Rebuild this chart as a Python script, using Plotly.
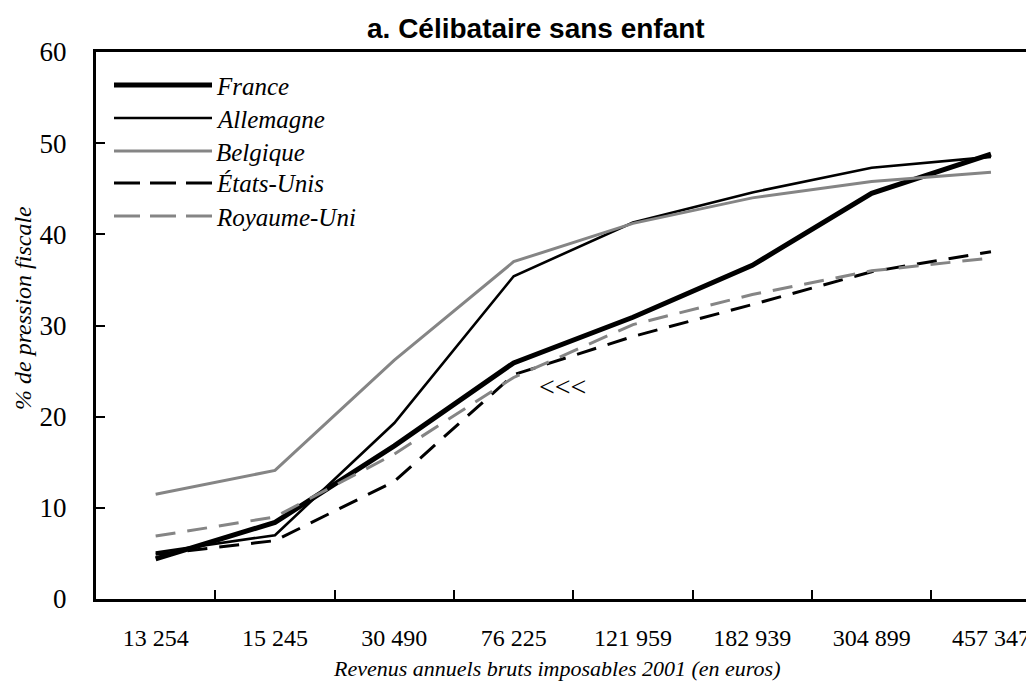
import plotly.graph_objects as go

categories = ["13 254", "15 245", "30 490", "76 225", "121 959", "182 939", "304 899", "457 347"]
france = [4.4, 8.4, 16.8, 25.9, 30.9, 36.6, 44.5, 48.8]
allemagne = [5.1, 7.0, 19.3, 35.4, 41.3, 44.6, 47.3, 48.5]
belgique = [11.5, 14.1, 26.2, 37.0, 41.2, 44.0, 45.8, 46.8]
etats_unis = [4.9, 6.4, 12.9, 24.6, 28.8, 32.3, 35.9, 38.1]
royaume_uni = [6.9, 9.0, 15.9, 24.3, 30.1, 33.4, 36.0, 37.4]

series_names = ["France", "Allemagne", "Belgique", "États-Unis", "Royaume-Uni"]
series_values = [france, allemagne, belgique, etats_unis, royaume_uni]

GRAY = "#858585"
SERIF = "Liberation Serif, Times New Roman, serif"
SANS = "Liberation Sans, Arial, sans-serif"
styles = [
    dict(color="black", width=5, dash="solid"),
    dict(color="black", width=2.6, dash="solid"),
    dict(color=GRAY, width=3, dash="solid"),
    dict(color="black", width=3, dash="20px,12px"),
    dict(color=GRAY, width=3, dash="20px,12px"),
]

fig = go.Figure()
for name, vals, st in zip(series_names, series_values, styles):
    fig.add_trace(go.Scatter(x=categories, y=vals, mode="lines", name=name,
                             line=st, showlegend=False))

# page body has an 8px margin: the figure is laid out in screen coordinates minus OFF
OFF = 7
FIG_W, FIG_H = 1034 - OFF, 684 - OFF
L, R, T, B = 95, 1034, 51, 598          # plot area in screen pixels
W, H = R - L, B - T
def px(X):
    return (X - L) / W
def py(Y):
    return (B - Y) / H

rows_y = [84, 117, 150, 182, 215]
for name, st, yy in zip(series_names, styles, rows_y):
    dash = "solid" if st["dash"] == "solid" else "26px,10px"
    fig.add_shape(type="line", xref="paper", yref="paper",
                  x0=px(113), x1=px(211), y0=py(yy), y1=py(yy),
                  line=dict(color=st["color"], width=st["width"], dash=dash))
    fig.add_annotation(xref="paper", yref="paper", x=px(213), y=py(yy + 1),
                       text="<i>" + name + "</i>", showarrow=False, xanchor="left", yanchor="middle",
                       font=dict(family=SERIF, size=25, color="black"))

# annotation "<<<"
fig.add_annotation(xref="paper", yref="paper", x=px(561), y=py(385), text="&lt;&lt;&lt;",
                   showarrow=False, xanchor="center", yanchor="middle",
                   font=dict(family=SERIF, size=28, color="black"))

# titles
fig.add_annotation(xref="paper", yref="paper", x=px(535), y=py(27),
                   text="<b>a. Célibataire sans enfant</b>", showarrow=False,
                   xanchor="center", yanchor="middle",
                   font=dict(family=SANS, size=28, color="black"))
fig.add_annotation(xref="paper", yref="paper", x=px(555), y=py(667),
                   text="<i>Revenus annuels bruts imposables 2001 (en euros)</i>", showarrow=False,
                   xanchor="center", yanchor="middle",
                   font=dict(family=SERIF, size=22, color="black"))
fig.add_annotation(xref="paper", yref="paper", x=px(22), y=py(307),
                   text="<i>% de pression fiscale</i>", showarrow=False, textangle=-90,
                   xanchor="center", yanchor="middle",
                   font=dict(family=SERIF, size=24, color="black"))

fig.update_layout(
    width=FIG_W, height=FIG_H,
    margin=dict(l=L - OFF, r=0, t=T - OFF, b=684 - B, autoexpand=False),
    paper_bgcolor="white", plot_bgcolor="white",
    showlegend=False,
)
fig.update_xaxes(
    type="category", categoryorder="array", categoryarray=categories,
    range=[-0.5, 7.369], tickson="boundaries", automargin=False,
    ticks="inside", ticklen=9, tickwidth=2, tickcolor="black",
    showline=True, linewidth=3, linecolor="black", mirror=True,
    showgrid=False, zeroline=False,
    tickfont=dict(family=SERIF, size=24, color="black"),
    ticklabelstandoff=15,
)
fig.update_yaxes(
    range=[0, 60], tickvals=[0, 10, 20, 30, 40, 50, 60], automargin=False,
    ticks="inside", ticklen=9, tickwidth=2, tickcolor="black",
    showline=True, linewidth=3, linecolor="black",
    showgrid=False, zeroline=False,
    tickfont=dict(family=SERIF, size=27, color="black"),
    ticklabelstandoff=21,
)

fig.write_html("out.html")
